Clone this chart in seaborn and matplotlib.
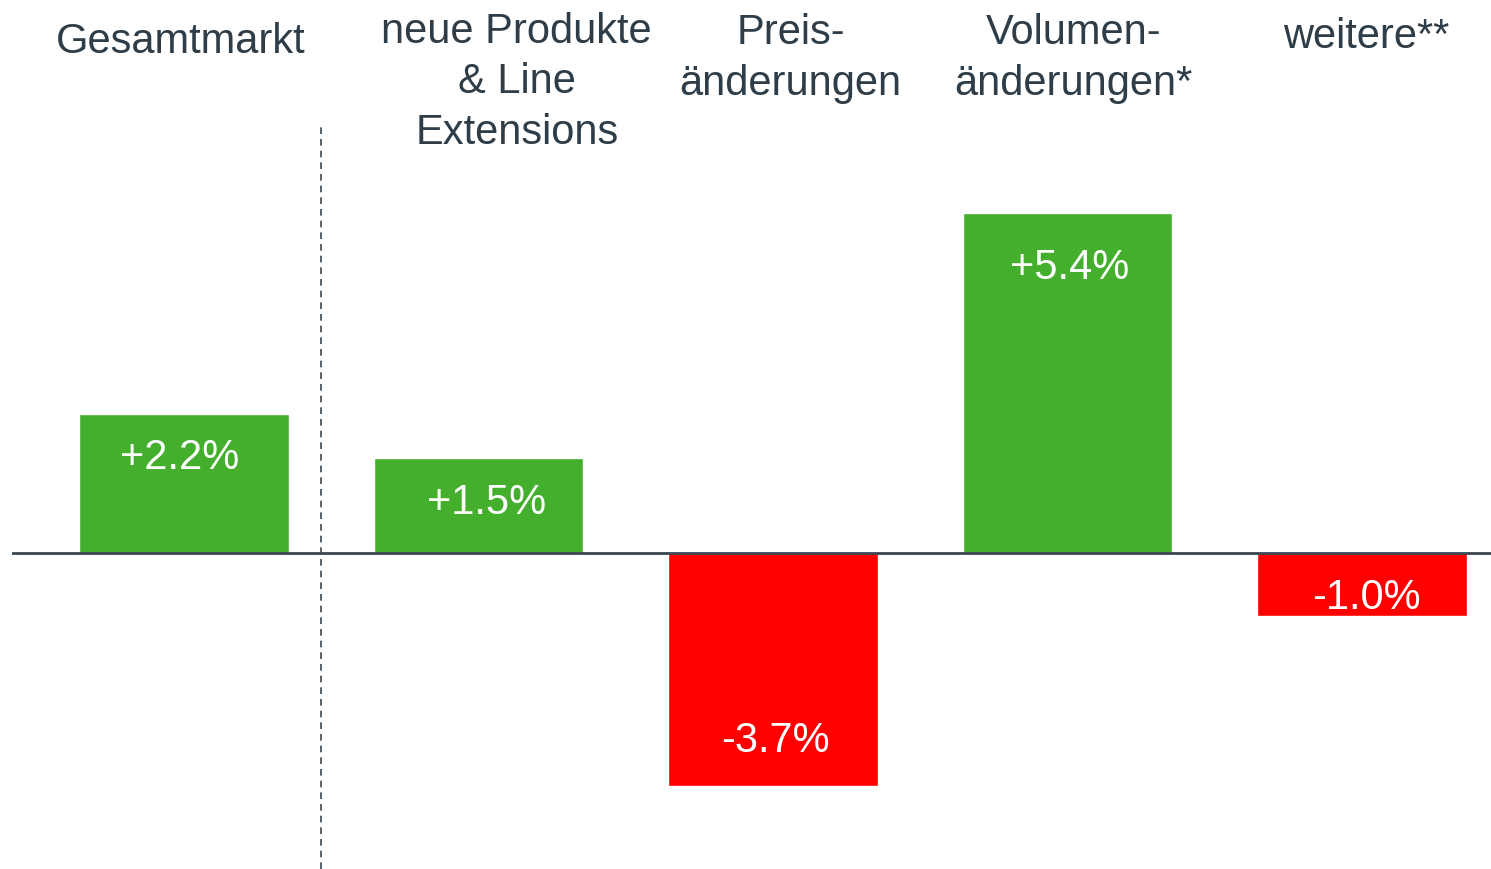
"""Zerlegung des Marktwachstums: Gesamtmarkt und Treiber."""

import matplotlib.pyplot as plt
import pandas as pd
import seaborn as sns

# Data
categories = ["Gesamtmarkt", "neue Produkte\n& Line\nExtensions", "Preis-\nänderungen",
              "Volumen-\nänderungen*", "weitere**"]
values = [2.2, 1.5, -3.7, 5.4, -1.0]
value_labels = ["+2.2%", "+1.5%", "-3.7%", "+5.4%", "-1.0%"]

# Style
GREEN = "#44af2c"
RED = "#ff0000"
TEXT = "#2e3d47"
LINE = "#3a4750"
FONT = ["Liberation Sans", "DejaVu Sans"]
FS = 30

sns.set_style("white")
plt.rcParams["font.family"] = FONT

df = pd.DataFrame({"cat": categories, "value": values})
colors = [GREEN if v >= 0 else RED for v in values]

fig = plt.figure(figsize=(14.91, 8.69), dpi=100)
ax = fig.add_axes([12 / 1491, 0, 1 - 12 / 1491, 1])

sns.barplot(data=df, x="cat", y="value", hue="cat", palette=colors,
            legend=False, width=0.713, saturation=1, ax=ax)

YMIN, YMAX = -5.02, 8.78
ax.set_xlim(-0.584, 4.438)
ax.set_ylim(YMIN, YMAX)
ax.axis("off")

# baseline and divider
ax.axhline(0, color=LINE, lw=2, zorder=3)
ax.plot([0.465, 0.465], [YMIN, 6.8], color=LINE, lw=1.2, ls=(0, (4, 3)), zorder=3)

# category labels at the top
label_x = [-0.01, 0.13, 0.06, 0.02, 0.014]
label_y = [8.12, 7.47, 7.85, 7.85, 8.20]
for i, cat in enumerate(categories):
    ax.text(i + label_x[i], label_y[i], cat, ha="center", va="center",
            fontsize=FS, color=TEXT, linespacing=1.34)

# value labels inside the bars
value_x = [-0.014, 0.027, 0.007, 0.007, 0.014]
for i, (v, lab) in enumerate(zip(values, value_labels)):
    if v >= 0:
        y = v - (0.70 if v < 3 else 0.88)
    else:
        y = v + 0.72 if v < -2 else -0.72
    ax.text(i + value_x[i], y, lab, ha="center", va="center", fontsize=FS,
            color="white")

fig.savefig("out.png", dpi=100)
